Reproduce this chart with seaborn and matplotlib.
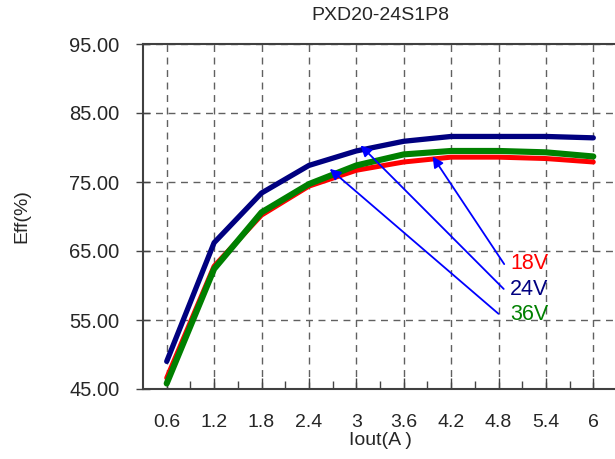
import matplotlib
matplotlib.use("Agg")
import matplotlib.pyplot as plt
import pandas as pd
import seaborn as sns
from matplotlib.ticker import FixedLocator

# data
iout = ["0.6", "1.2", "1.8", "2.4", "3", "3.6", "4.2", "4.8", "5.4", "6"]
eff_18v = [46.6, 62.8, 70.2, 74.4, 76.7, 77.9, 78.6, 78.6, 78.4, 77.9]
eff_24v = [49.0, 66.2, 73.4, 77.4, 79.5, 80.9, 81.6, 81.6, 81.6, 81.4]
eff_36v = [45.8, 62.4, 70.6, 74.7, 77.4, 79.0, 79.5, 79.5, 79.3, 78.7]
y_ticks = [45, 55, 65, 75, 85, 95]

sns.set_theme(style="white")
plt.rcParams["font.family"] = ["Liberation Sans", "DejaVu Sans"]

fig = plt.figure(figsize=(6.15, 4.59), dpi=100)
ax = fig.add_axes([143 / 615, 70 / 459, 474 / 615, 345 / 459])

df = pd.DataFrame({"Iout": iout, "18V": eff_18v, "24V": eff_24v, "36V": eff_36v})
series = [("18V", "#ff0000", 3.6), ("36V", "#008000", 4.4), ("24V", "#000080", 3.8)]
for name, color, lw in series:
    sns.lineplot(data=df, x="Iout", y=name, color=color, linewidth=lw,
                 ax=ax, sort=False, solid_capstyle="round")

ax.set_xlim(-0.5, len(iout) - 0.5)
ax.set_ylim(45, 95)
ax.set_yticks(y_ticks)
ax.set_yticklabels([f"{v:.2f}" for v in y_ticks], fontsize=14.5)
ax.set_xticks(range(len(iout)))
ax.set_xticklabels(iout, fontsize=14)
ax.xaxis.set_minor_locator(FixedLocator([i + 0.5 for i in range(len(iout) - 1)]))

ax.tick_params(axis="x", which="major", direction="in", length=8, width=1,
               color="#444444", pad=18, bottom=True)
ax.tick_params(axis="x", which="minor", direction="in", length=6, width=1,
               color="#444444", bottom=True)
ax.tick_params(axis="y", direction="inout", length=10, width=1,
               color="#444444", pad=12, left=True)

ax.grid(True, which="major", color="#606060", linestyle=(0, (5, 4)), linewidth=1)
for side in ["left", "bottom", "top"]:
    ax.spines[side].set_color("#404040")
    ax.spines[side].set_linewidth(1.5)
ax.spines["right"].set_visible(False)

ax.set_title("PXD20-24S1P8", fontsize=14, pad=17)
ax.set_xlabel("Iout(A )", fontsize=14, labelpad=1)
ax.set_ylabel("Eff(%)", fontsize=14, labelpad=28)

# labels with arrows pointing at the curves
labels = [("18V", "#ff0000", 63.2, (5.61, 78.7), (7.12, 63.1)),
          ("24V", "#000080", 59.4, (4.09, 80.3), (7.11, 59.5)),
          ("36V", "#008000", 55.8, (3.44, 76.9), (7.0, 55.9))]
for text, color, ty, head, tail in labels:
    ax.annotate("", xy=head, xytext=tail,
                arrowprops=dict(arrowstyle="-|>", color="#0000ff", lw=1.3,
                                mutation_scale=16, shrinkA=0, shrinkB=0))
    ax.text(7.24, ty, text, color=color, fontsize=15.5, va="center", ha="left")

fig.savefig("out.png", dpi=100)
